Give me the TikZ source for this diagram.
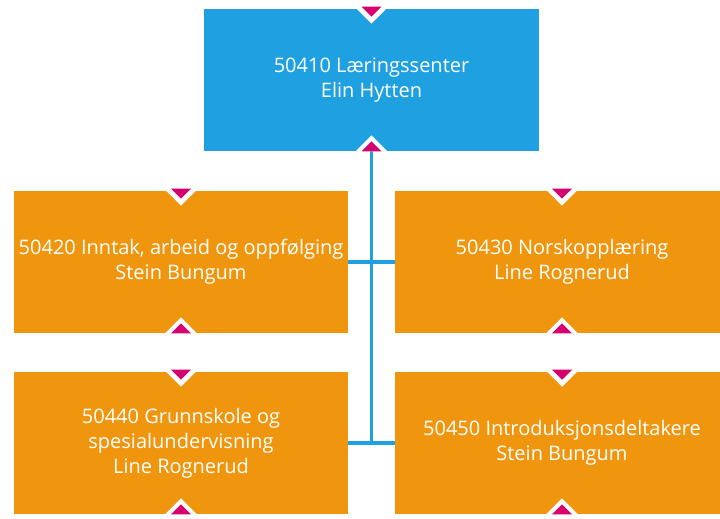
\documentclass[tikz,border=0pt]{standalone}
\usepackage{fontspec}
\setmainfont{Open Sans}
\usetikzlibrary{positioning}
\definecolor{headblue}{HTML}{1FA0E0}
\definecolor{unitorange}{HTML}{F0960E}
\definecolor{notchpink}{HTML}{D6006F}
\tikzset{
  orgbox/.style={rectangle, fill=unitorange, text=white, align=center,
    inner sep=0pt, minimum width=250.5pt, minimum height=106.5pt,
    font=\fontsize{15}{18.75}\selectfont},
  headbox/.style={orgbox, fill=headblue, minimum width=251.25pt},
  orgline/.style={draw=headblue, line width=2.8pt}
}
\newcommand{\notches}[1]{%
  \begin{scope}[shift={(#1.north)}]
    \fill[white] (-17,-2) -- (17,-2) -- (0,15) -- cycle;
    \fill[notchpink] (-10,-2) -- (10,-2) -- (0,8) -- cycle;
  \end{scope}
  \begin{scope}[shift={(#1.south)}]
    \fill[white] (-16,0) -- (16,0) -- (0,-16) -- cycle;
    \fill[notchpink] (-10,0) -- (10,0) -- (0,-10) -- cycle;
  \end{scope}}

\begin{document}
\begin{tikzpicture}[x=0.75pt, y=-0.75pt]
  \clip (0,0) rectangle (720,518);
  \node (top)[headbox] at (371.5,80) {50410 Læringssenter\\Elin Hytten};
  \node (n420)[orgbox] at (181,262) {50420 Inntak, arbeid og oppfølging\\Stein Bungum};
  \node (n430)[orgbox] at (562,262) {50430 Norskopplæring\\Line Rognerud};
  \node (n440)[orgbox] at (181,443) {50440 Grunnskole og\\spesialundervisning\\Line Rognerud};
  \node (n450)[orgbox] at (562,443) {50450 Introduksjonsdeltakere\\Stein Bungum};
  \draw[orgline] (top.south) -- (top.south |- n440.east);
  \draw[orgline] (n420.east) -- (n430.west);
  \draw[orgline] (n440.east) -- (n450.west);
  \foreach \n in {top,n420,n430,n440,n450} {\notches{\n}}
\end{tikzpicture}
\end{document}
